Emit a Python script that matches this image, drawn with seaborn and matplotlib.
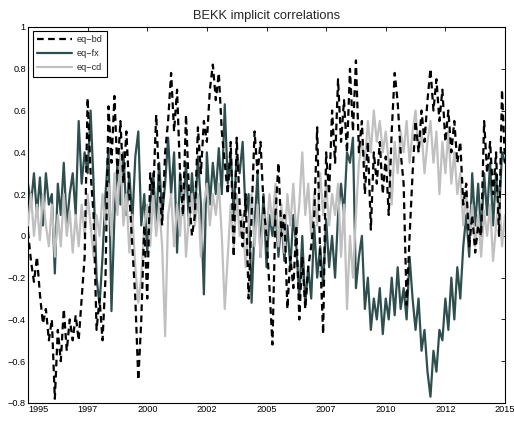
import numpy as np
import pandas as pd
import matplotlib
matplotlib.use("Agg")
import matplotlib.pyplot as plt
import seaborn as sns

# ---- data (8 samples per year) ----
start_year = 1995.0
step = 0.125

eq_bd = [
    0.02, -0.12, -0.22, -0.1, -0.28, -0.42, -0.35, -0.5,
    -0.4, -0.78, -0.45, -0.6, -0.35, -0.55, -0.4, -0.5,
    -0.38, -0.5, -0.3, -0.1, 0.66, 0.3, 0.1, -0.45,
    -0.3, -0.5, -0.2, 0.62, 0.35, 0.67, 0.3, 0.55,
    0.25, 0.5, 0.2, -0.05, -0.3, -0.69, -0.4, 0.05,
    -0.3, 0.3, 0.2, 0.58, 0.25, 0.05, 0.4, 0.55,
    0.78, 0.5, 0.7, 0.3, 0.1, 0.58, 0.2, 0.0,
    0.1, 0.52, 0.3, 0.55, 0.45, 0.7, 0.82, 0.65,
    0.78, 0.5, 0.35, 0.2, 0.45, -0.1, 0.47, 0.15,
    -0.05, 0.2, -0.3, 0.1, 0.5, 0.3, 0.45, 0.15,
    0.0, -0.25, -0.52, 0.1, 0.35, 0.0, 0.1, -0.35,
    -0.1, -0.25, 0.05, -0.4, -0.1, -0.35, -0.15, -0.05,
    0.1, 0.52, -0.1, -0.47, 0.4, 0.2, 0.6, 0.35,
    0.75, 0.45, 0.65, 0.4, 0.8, 0.5, 0.84, 0.4,
    0.55, 0.2, 0.45, 0.03, 0.4, 0.25, 0.45, 0.2,
    0.38, 0.1, 0.5, 0.78, 0.64, 0.4, 0.25, -0.33,
    0.0, 0.3, 0.55, 0.4, 0.6, 0.45, 0.65, 0.8,
    0.6, 0.75, 0.55, 0.7, 0.45, 0.6, 0.4, 0.55,
    0.35, 0.45, 0.15, 0.25, -0.05, 0.1, -0.08, 0.05,
    0.0, 0.55, 0.3, 0.45, 0.2, 0.4, 0.0, 0.7,
    0.35,
]

eq_fx = [
    0.25, 0.15, 0.3, 0.1, 0.28, 0.05, 0.3, 0.15,
    0.2, -0.18, 0.25, 0.1, 0.35, 0.05, 0.2, 0.3,
    0.1, 0.55, 0.25, 0.4, 0.3, 0.6, 0.25, -0.2,
    -0.33, -0.1, 0.2, 0.42, -0.36, 0.1, 0.35, 0.15,
    0.4, 0.1, 0.3, 0.07, 0.38, 0.5, 0.05, 0.2,
    -0.08, 0.15, 0.3, 0.05, 0.35, 0.1, 0.25, 0.47,
    0.2, 0.4, -0.08, 0.3, 0.1, 0.35, 0.05, 0.3,
    0.1, 0.38, 0.15, -0.28, 0.4, 0.15, 0.35, 0.2,
    0.42, 0.2, 0.63, 0.25, 0.4, 0.1, 0.38, 0.3,
    0.45, 0.1, 0.2, -0.32, 0.05, 0.3, -0.1, 0.2,
    -0.15, 0.1, 0.0, 0.12, -0.1, 0.08, -0.12, 0.05,
    -0.15, 0.1, -0.05, -0.3, 0.0, -0.33, -0.15, -0.3,
    0.05, -0.2, -0.05, -0.24, 0.08, -0.15, 0.0, -0.2,
    0.1, 0.25, 0.1, 0.4, 0.35, 0.47, -0.25, -0.1,
    0.0, -0.35, -0.2, -0.45, -0.3, -0.4, -0.25, -0.47,
    -0.3, -0.4, -0.2, -0.38, -0.15, -0.35, -0.25, -0.4,
    -0.1, -0.3, -0.45, -0.3, -0.55, -0.45, -0.65, -0.77,
    -0.55, -0.65, -0.45, -0.5, -0.3, -0.45, -0.2, -0.4,
    -0.15, -0.3, -0.05, 0.1, -0.1, 0.3, 0.05, 0.25,
    0.0, 0.3, 0.1, 0.35, 0.05, 0.3, 0.1, 0.4,
    0.35,
]

eq_cd = [
    0.05, 0.2, 0.0, 0.15, -0.02, 0.2, 0.05, -0.05,
    0.15, -0.1, 0.1, -0.05, 0.2, 0.0, 0.12, -0.08,
    0.1, -0.05, 0.15, 0.0, 0.2, 0.05, -0.1, 0.1,
    0.0, 0.2, 0.05, 0.25, 0.0, 0.3, 0.1, 0.4,
    0.05, 0.2, -0.08, 0.1, -0.15, -0.32, -0.2, 0.05,
    0.15, -0.05, 0.2, 0.0, 0.15, -0.05, -0.48, 0.1,
    0.2, -0.05, 0.15, 0.0, 0.25, -0.1, 0.1, 0.2,
    0.05, 0.2, -0.1, 0.15, 0.25, 0.05, 0.2, 0.1,
    0.25, 0.0, -0.35, -0.1, 0.15, -0.05, 0.2, 0.0,
    0.1, -0.15, 0.05, 0.2, -0.05, 0.15, -0.1, 0.1,
    0.0, 0.2, 0.05, 0.25, -0.05, 0.15, -0.08, 0.2,
    0.05, 0.25, 0.0, 0.15, 0.4, 0.1, 0.25, 0.0,
    0.2, 0.05, 0.3, 0.1, 0.25, 0.05, 0.2, 0.1,
    0.25, -0.1, 0.15, -0.35, 0.0, -0.2, 0.1, 0.35,
    0.45, 0.35, 0.55, 0.4, 0.6, 0.45, 0.55, 0.4,
    0.5, 0.35, 0.15, 0.45, 0.3, 0.5, 0.4, 0.55,
    0.35, 0.5, 0.6, 0.4, 0.5, 0.3, 0.45, 0.55,
    0.35, 0.5, 0.2, 0.45, 0.3, 0.5, 0.25, 0.4,
    0.2, 0.3, 0.05, 0.2, 0.0, 0.15, -0.05, 0.1,
    -0.1, 0.12, 0.0, 0.15, -0.12, 0.05, 0.2, -0.05,
    0.1,
]

series_labels = ["eq\u2212bd", "eq\u2212fx", "eq\u2212cd"]
x_tick_values = [1995, 1997.5, 2000, 2002.5, 2005, 2007.5, 2010, 2012.5, 2015]
x_tick_labels = ["1995", "1997", "2000", "2002", "2005", "2007", "2010", "2012", "2015"]
y_tick_values = [-0.8, -0.6, -0.4, -0.2, 0, 0.2, 0.4, 0.6, 0.8, 1.0]
y_tick_labels = ["\u22120.8", "\u22120.6", "\u22120.4", "\u22120.2", "0",
                 "0.2", "0.4", "0.6", "0.8", "1"]
title = "BEKK implicit correlations"

# ---- build frame ----
n = len(eq_bd)
years = start_year + step * np.arange(n)
df = pd.DataFrame({"year": years, "bd": eq_bd, "fx": eq_fx, "cd": eq_cd})

sns.set_theme(style="white")
plt.rcParams["font.family"] = ["Liberation Sans", "DejaVu Sans"]

fig = plt.figure(figsize=(5.14, 4.21), dpi=100)
ax = fig.add_axes([28 / 514, 1 - 403 / 421, 477 / 514, 376 / 421])

lw = 1.6
sns.lineplot(data=df, x="year", y="fx", ax=ax, color="#2f4f4f", lw=lw,
             label=series_labels[1], zorder=2)
sns.lineplot(data=df, x="year", y="cd", ax=ax, color="#c0c0c0", lw=lw,
             label=series_labels[2], zorder=3)
sns.lineplot(data=df, x="year", y="bd", ax=ax, color="black", lw=lw,
             label=series_labels[0], zorder=4)
ax.lines[-1].set_linestyle((0, (3, 2)))

ax.set_xlim(1995, 2015)
ax.set_ylim(-0.8, 1.0)
ax.set_xlabel("")
ax.set_ylabel("")
ax.set_xticks(x_tick_values)
ax.set_xticklabels(x_tick_labels)
ax.set_yticks(y_tick_values)
ax.set_yticklabels(y_tick_labels)
first = ax.get_xticklabels()[0]
first.set_horizontalalignment("left")

ax.tick_params(axis="both", direction="in", length=3, width=0.6,
               labelsize=6.6, colors="black", top=True, right=True,
               labeltop=False, labelright=False, pad=1.5)
for s in ax.spines.values():
    s.set_color("black")
    s.set_linewidth(0.8)

ax.set_title(title, fontsize=9.3, pad=6)

h, l = ax.get_legend_handles_labels()
order = [l.index(series_labels[0]), l.index(series_labels[1]), l.index(series_labels[2])]
leg = ax.legend([h[i] for i in order], [l[i] for i in order],
                loc="upper left", bbox_to_anchor=(0.01, 0.99), borderaxespad=0,
                fontsize=6.6, frameon=True, fancybox=False, edgecolor="black",
                handlelength=3.8, handletextpad=0.5, labelspacing=0.55,
                borderpad=0.5)
leg.get_frame().set_linewidth(0.8)
leg.get_frame().set_alpha(1)

fig.savefig("out.png", dpi=100)
